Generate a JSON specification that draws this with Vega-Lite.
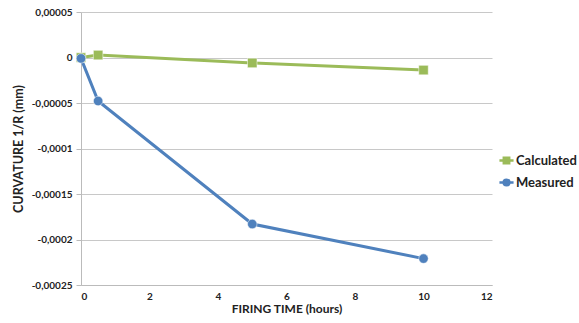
{
  "$schema": "https://vega.github.io/schema/vega-lite/v6.json",
  "width": 411,
  "height": 273,
  "autosize": {"type": "none"},
  "padding": {"left": 81, "top": 12, "right": 87, "bottom": 38},
  "background": "white",
  "config": {
    "view": {"stroke": null},
    "font": "Lato",
    "axis": {"labelFont": "Lato", "titleFont": "Lato", "labelFontWeight": "bold", "titleFontWeight": "bold", "labelColor": "#222", "titleColor": "#222"},
    "legend": {"orient": "none", "legendX": 417, "legendY": 140, "title": null, "labelFont": "Lato", "labelFontSize": 13, "labelFontWeight": "bold", "labelColor": "#222", "rowPadding": 5, "symbolSize": 200, "labelOffset": 1, "labelLimit": 200, "symbolStrokeWidth": 2.5}
  },
  "data": {
    "values": [
      {"series": "Calculated", "time": 0, "value": 0},
      {"series": "Calculated", "time": 0.5, "value": 0.0000027},
      {"series": "Calculated", "time": 5, "value": -0.000006},
      {"series": "Calculated", "time": 10, "value": -0.0000138},
      {"series": "Measured", "time": 0, "value": -0.000001},
      {"series": "Measured", "time": 0.5, "value": -0.0000478},
      {"series": "Measured", "time": 5, "value": -0.000183},
      {"series": "Measured", "time": 10, "value": -0.000221}
    ]
  },
  "encoding": {
    "x": {
      "field": "time", "type": "quantitative",
      "scale": {"domain": [0, 12], "nice": false},
      "axis": {"values": [0, 2, 4, 6, 8, 10, 12], "grid": false, "title": "FIRING TIME (hours)", "titleFontSize": 12, "labelFontSize": 10, "domainColor": "#bbb", "tickColor": "#bbb", "tickSize": 0, "labelPadding": 6, "titlePadding": 2}
    },
    "y": {
      "field": "value", "type": "quantitative",
      "scale": {"domain": [-0.00025, 0.00005], "nice": false, "zero": false},
      "axis": {"values": [0.00005, 0, -0.00005, -0.0001, -0.00015, -0.0002, -0.00025], "labelExpr": "replace(toString(datum.value), '.', ',')", "grid": true, "gridColor": "#c8c8c8", "domainColor": "#bbb", "tickColor": "#bbb", "tickSize": 5, "title": "CURVATURE 1/R (mm)", "titleFontSize": 12.5, "labelFontSize": 10, "labelPadding": 4, "titlePadding": 6}
    }
  },
  "layer": [
    {
      "mark": {"type": "line", "strokeWidth": 3},
      "encoding": {
        "stroke": {"field": "series", "type": "nominal", "scale": {"domain": ["Calculated", "Measured"], "range": ["#9BBB59", "#4F81BD"]}}
      }
    },
    {
      "transform": [{"filter": "datum.series === 'Calculated'"}],
      "mark": {"type": "point", "shape": "square", "filled": true, "size": 90, "opacity": 1, "stroke": "white", "strokeWidth": 0.5},
      "encoding": {
        "fill": {"field": "series", "type": "nominal", "scale": {"domain": ["Calculated", "Measured"], "range": ["#9BBB59", "#4F81BD"]}}
      }
    },
    {
      "transform": [{"filter": "datum.series === 'Measured'"}],
      "mark": {"type": "point", "shape": "circle", "filled": true, "size": 90, "opacity": 1, "stroke": "white", "strokeWidth": 0.5},
      "encoding": {
        "fill": {"field": "series", "type": "nominal"}
      }
    },
    {
      "mark": {"type": "point", "size": 0, "opacity": 1},
      "encoding": {
        "fill": {"field": "series", "type": "nominal"},
        "stroke": {"field": "series", "type": "nominal"},
        "shape": {"field": "series", "type": "nominal", "scale": {"domain": ["Calculated", "Measured"], "range": ["M-1,0H1M-0.38,-0.38H0.38V0.38H-0.38Z", "M-1,0H1M0.4,0A0.4,0.4 0 1,1 -0.4,0A0.4,0.4 0 1,1 0.4,0Z"]}}
      }
    }
  ]
}
